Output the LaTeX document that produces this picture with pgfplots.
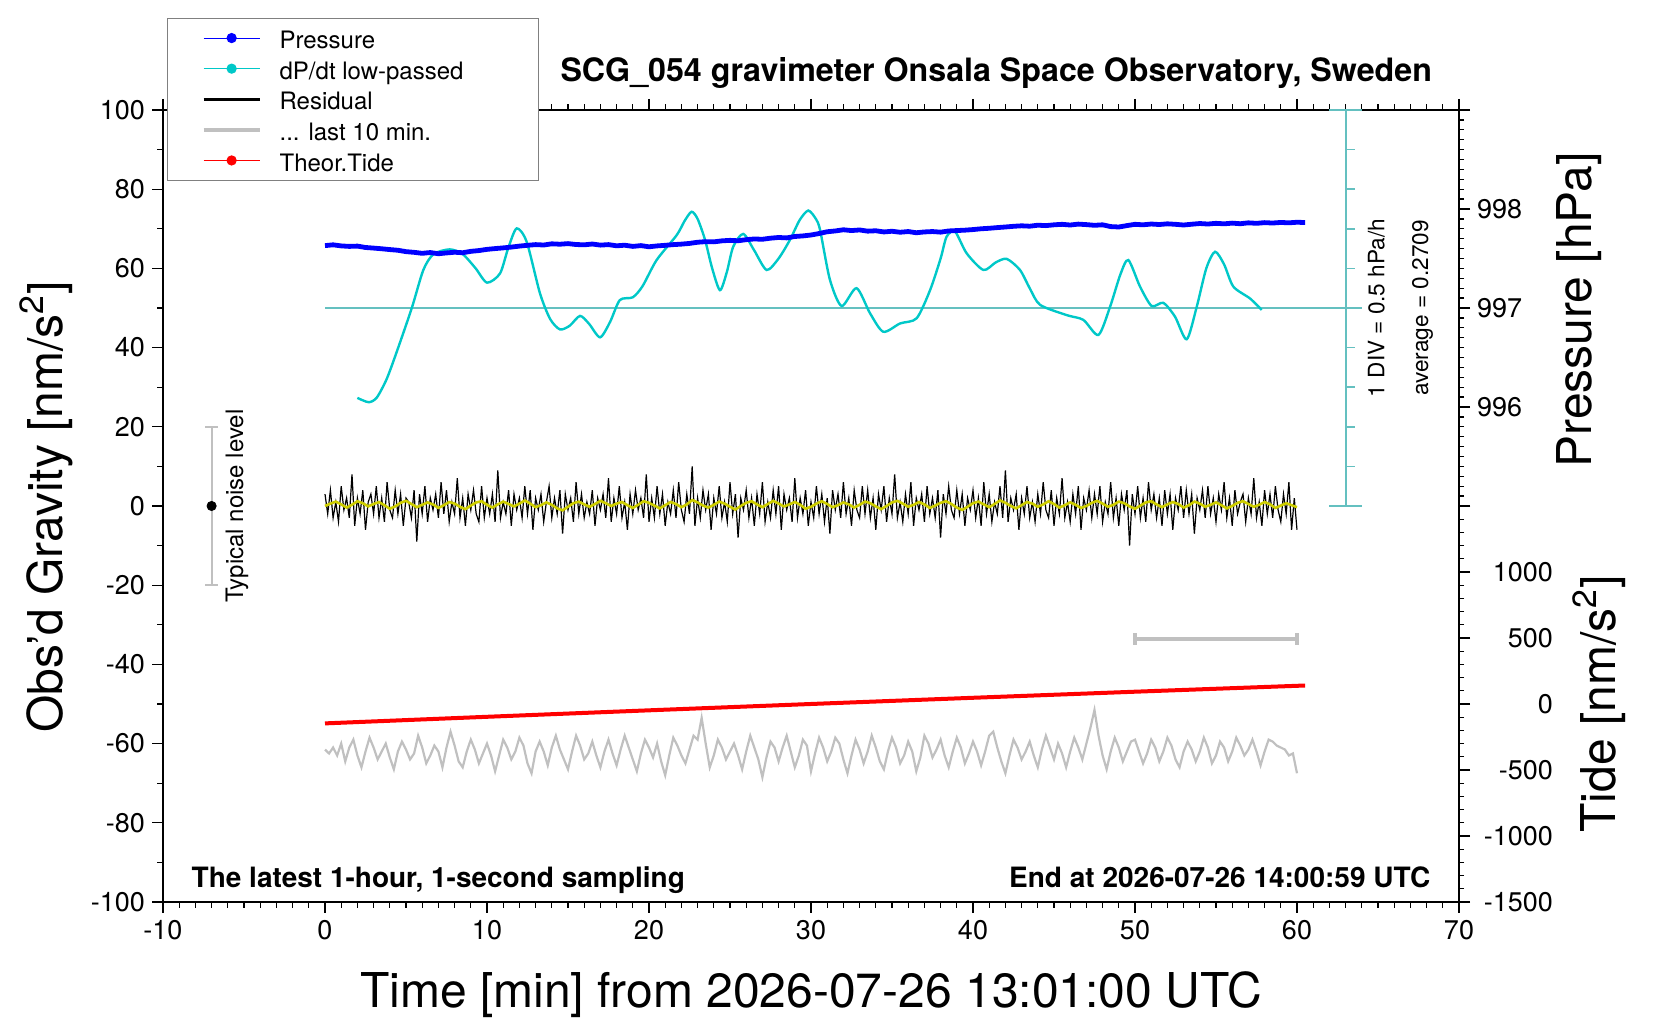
\documentclass[border=0pt]{standalone}
\usepackage{fontspec}
\setmainfont{TeX Gyre Heros}
\usepackage{pgfplots}
\pgfplotsset{compat=1.18}
\usepackage{pgfplotstable}

\definecolor{cyanc}{RGB}{0,200,200}
\definecolor{tealc}{RGB}{100,192,192}
\definecolor{yel}{RGB}{205,205,0}
\definecolor{grayc}{RGB}{192,192,192}

% residual, one value every 10 s
\pgfplotstableread[row sep=\\]{y\\
3\\ -2\\ 4\\ -3\\ 1\\ -4\\ 5\\ -1\\ 2\\ -3\\ 8\\ -5\\ 2\\ -2\\ 4\\ -6\\ 1\\ 3\\ -2\\ 5\\
-3\\ 2\\ -4\\ 6\\ -1\\ -3\\ 4\\ -2\\ 3\\ -5\\ 2\\ 1\\ -3\\ 4\\ -9\\ 3\\ -2\\ 5\\ -4\\ 2\\
-1\\ 3\\ -3\\ 6\\ -2\\ 4\\ -4\\ 1\\ -2\\ 7\\ -3\\ 2\\ -5\\ 3\\ -1\\ 4\\ -2\\ -4\\ 5\\ -3\\
2\\ -2\\ 3\\ -4\\ 9\\ -3\\ 1\\ -2\\ 4\\ -5\\ 3\\ -1\\ 2\\ -3\\ 5\\ -2\\ 4\\ -6\\ 2\\ -1\\
3\\ -4\\ 1\\ 5\\ -3\\ 2\\ -2\\ 4\\ -7\\ 3\\ -1\\ 2\\ -4\\ 6\\ -2\\ 3\\ -3\\ 1\\ -2\\ 4\\
-5\\ 2\\ -1\\ 3\\ -3\\ 7\\ -4\\ 2\\ -2\\ 5\\ -3\\ 1\\ -6\\ 3\\ -2\\ 4\\ -1\\ 2\\ -3\\ 8\\
-4\\ 2\\ -3\\ 5\\ -2\\ 3\\ -5\\ 1\\ -2\\ 4\\ -3\\ 6\\ -1\\ -4\\ 3\\ -2\\ 10\\ -5\\ 2\\ -3\\
4\\ -1\\ 3\\ -6\\ 2\\ -2\\ 5\\ -3\\ 1\\ -4\\ 6\\ -2\\ 3\\ -8\\ 2\\ -1\\ 4\\ -3\\ 2\\ -5\\
3\\ -2\\ 6\\ -4\\ 1\\ -3\\ 4\\ -2\\ 5\\ -6\\ 3\\ -1\\ 2\\ -4\\ 7\\ -3\\ 2\\ -2\\ 4\\ -5\\
1\\ -3\\ 5\\ -2\\ 3\\ -4\\ 2\\ -7\\ 4\\ -1\\ 3\\ -3\\ 6\\ -2\\ 2\\ -5\\ 4\\ -1\\ -3\\ 5\\
-2\\ 4\\ -3\\ 2\\ -6\\ 3\\ -1\\ 5\\ -4\\ 2\\ -2\\ 8\\ -3\\ 1\\ -4\\ 3\\ -2\\ 6\\ -5\\ 2\\
-1\\ 3\\ -4\\ 5\\ -2\\ 2\\ -3\\ 4\\ -8\\ 3\\ -2\\ 5\\ -1\\ -3\\ 4\\ -2\\ 3\\ -5\\ 2\\ -1\\
4\\ -3\\ 2\\ -5\\ 6\\ -2\\ 3\\ -4\\ 1\\ -2\\ 5\\ -3\\ 9\\ -4\\ 2\\ -1\\ 3\\ -6\\ 2\\ -2\\
5\\ -3\\ 1\\ -4\\ 3\\ -2\\ 6\\ -1\\ -3\\ 4\\ -5\\ 2\\ -2\\ 7\\ -3\\ 1\\ -4\\ 3\\ -2\\ 5\\
-6\\ 2\\ -1\\ 4\\ -3\\ 3\\ -2\\ 5\\ -4\\ 1\\ -2\\ 6\\ -3\\ 2\\ -5\\ 3\\ -1\\ 4\\ -10\\ 3\\
-2\\ 5\\ -3\\ 2\\ -4\\ 6\\ -1\\ 3\\ -3\\ 2\\ -5\\ 4\\ -2\\ 3\\ -6\\ 2\\ -1\\ 5\\ -3\\ 4\\
-2\\ 3\\ -7\\ 2\\ -1\\ 4\\ -3\\ 5\\ -2\\ 2\\ -4\\ 3\\ -1\\ 6\\ -3\\ 2\\ -5\\ 4\\ -2\\ 1\\
3\\ -4\\ 2\\ -2\\ 7\\ -3\\ 1\\ -5\\ 4\\ -2\\ 3\\ -3\\ 5\\ -1\\ -4\\ 3\\ -2\\ 6\\ -6\\ 2\\
-6\\
}\residual

% smoothed residual, one value every 20 s
\pgfplotstableread[row sep=\\]{y\\
0\\ 0.6\\ 1.1\\ 0.4\\ -0.4\\ 0.3\\ 1.2\\ 0.7\\ -0.1\\ 0.5\\ 1.0\\ 0.2\\ -0.7\\ -0.1\\ 0.8\\ 1.3\\ 0.5\\ -0.3\\ 0.3\\ 0.9\\
0.4\\ -0.5\\ 0.2\\ 1.0\\ 0.6\\ -0.2\\ -0.8\\ 0.1\\ 0.9\\ 1.2\\ 0.3\\ -0.4\\ 0.4\\ 1.1\\ 0.5\\ -0.1\\ 0.6\\ 1.4\\ 0.6\\ -0.3\\
0.2\\ 0.9\\ 0.3\\ -0.6\\ -1.1\\ -0.2\\ 0.7\\ 1.1\\ 0.4\\ -0.2\\ 0.5\\ 1.3\\ 0.7\\ 0\\ 0.6\\ 1.0\\ 0.2\\ -0.5\\ 0.3\\ 1.2\\
0.8\\ 0.1\\ -0.6\\ 0.2\\ 1.0\\ 0.5\\ -0.3\\ 0.4\\ 1.5\\ 0.9\\ 0.1\\ -0.4\\ 0.3\\ 1.1\\ 0.6\\ -0.2\\ -0.9\\ 0\\ 0.8\\ 1.2\\
0.4\\ -0.3\\ 0.5\\ 1.3\\ 0.6\\ -0.1\\ 0.4\\ 1.0\\ 0.3\\ -0.7\\ -0.2\\ 0.6\\ 1.2\\ 0.5\\ -0.3\\ 0.2\\ 0.9\\ 0.4\\ -0.4\\ 0.3\\
1.1\\ 0.7\\ -0.1\\ -0.8\\ 0\\ 0.9\\ 1.3\\ 0.6\\ -0.2\\ 0.3\\ 1.0\\ 0.4\\ -0.5\\ 0.1\\ 0.8\\ 1.2\\ 0.5\\ -0.4\\ -1.0\\ -0.2\\
0.7\\ 1.1\\ 0.4\\ -0.3\\ 0.5\\ 1.4\\ 0.8\\ 0\\ -0.6\\ 0.2\\ 1.0\\ 0.6\\ -0.2\\ 0.4\\ 1.2\\ 0.5\\ -0.4\\ 0.2\\ 0.9\\ 0.3\\
-0.5\\ 0\\ 0.8\\ 1.3\\ 0.6\\ -0.2\\ 0.3\\ 1.1\\ 0.7\\ -0.1\\ -0.7\\ 0.1\\ 0.9\\ 1.2\\ 0.4\\ -0.3\\ 0.4\\ 1.0\\ 0.5\\ -0.4\\
0.2\\ 1.1\\ 0.6\\ -0.2\\ 0.3\\ 0.9\\ 0.2\\ -0.6\\ 0\\ 0.8\\ 1.2\\ 0.5\\ -0.2\\ 0.3\\ 1.0\\ 0.4\\ -0.5\\ 0.1\\ 0.7\\ 0.2\\
-0.3\\
}\smoothres

% last 10 minutes, stretched over the hour (offset -62)
\pgfplotstableread[row sep=\\]{y\\
-61.5\\ -62.5\\ -61\\ -63\\ -60\\ -64.5\\ -61\\ -59\\ -63\\ -66\\ -62\\ -58.5\\ -61\\ -64\\ -62\\ -60\\ -63.5\\ -66.5\\ -62\\ -59.5\\
-61.5\\ -64\\ -62.5\\ -58\\ -61\\ -65\\ -63\\ -60.5\\ -62\\ -66\\ -61\\ -57\\ -60.5\\ -64.5\\ -66\\ -62\\ -59\\ -61.5\\ -65\\ -62.5\\
-60\\ -63\\ -67\\ -63\\ -59\\ -61\\ -64\\ -62\\ -58.5\\ -60.5\\ -65\\ -67.5\\ -62\\ -59.5\\ -62\\ -65.5\\ -61\\ -58\\ -61.5\\ -64\\
-66.5\\ -62\\ -58\\ -60.5\\ -64\\ -62.5\\ -59.5\\ -63\\ -66\\ -62\\ -59\\ -62.5\\ -65.5\\ -61.5\\ -58\\ -61\\ -64\\ -67\\ -62.5\\ -59\\
-61\\ -63.5\\ -60\\ -64.5\\ -68\\ -63\\ -58.5\\ -60.5\\ -63\\ -65\\ -61.5\\ -58\\ -59\\ -53.5\\ -60\\ -66\\ -63\\ -59\\ -61\\ -64\\
-62\\ -60\\ -63\\ -66.5\\ -62\\ -58\\ -61\\ -64\\ -68.5\\ -63.5\\ -59.5\\ -61\\ -64.5\\ -61\\ -58\\ -62\\ -66\\ -63\\ -59\\ -60.5\\
-67\\ -62.5\\ -58.5\\ -61\\ -64.5\\ -62\\ -58.5\\ -60\\ -64\\ -67.5\\ -63\\ -59\\ -61.5\\ -65\\ -62\\ -58\\ -61\\ -64.5\\ -66.5\\ -62\\
-58.5\\ -61\\ -65\\ -63\\ -59.5\\ -62\\ -67\\ -63.5\\ -58\\ -60\\ -63.5\\ -61.5\\ -59\\ -63\\ -66\\ -62\\ -58.5\\ -61\\ -65\\ -62.5\\
-59.5\\ -62\\ -65.5\\ -62\\ -58\\ -57\\ -61\\ -64.5\\ -67.5\\ -63\\ -59\\ -61\\ -64\\ -62\\ -59.5\\ -63\\ -66\\ -61.5\\ -58\\ -61\\
-64\\ -60\\ -62.5\\ -66\\ -62\\ -58.5\\ -61\\ -64\\ -60\\ -56\\ -51.5\\ -58\\ -63\\ -66.5\\ -62\\ -58.5\\ -61\\ -64.5\\ -62\\ -59.5\\
-59\\ -62\\ -65\\ -62.5\\ -59\\ -61\\ -64.5\\ -62\\ -58.5\\ -60.5\\ -64\\ -66\\ -62\\ -59.5\\ -61.5\\ -64.5\\ -62\\ -58.5\\ -61\\ -65\\
-63\\ -59.5\\ -61\\ -64.5\\ -62\\ -58.5\\ -60.5\\ -63\\ -61.5\\ -59\\ -62\\ -65.5\\ -62\\ -59\\ -59.5\\ -60.5\\ -61\\ -61.5\\ -63\\ -62.5\\
-67.5\\
}\lastten

% pressure [hPa], one value every 30 s
\pgfplotstableread[row sep=\\]{y\\
997.630\\ 997.638\\ 997.627\\ 997.622\\ 997.625\\ 997.611\\ 997.605\\ 997.598\\ 997.590\\ 997.583\\
997.569\\ 997.562\\ 997.552\\ 997.560\\ 997.548\\ 997.556\\ 997.563\\ 997.558\\ 997.572\\ 997.580\\
997.592\\ 997.600\\ 997.607\\ 997.615\\ 997.625\\ 997.633\\ 997.640\\ 997.636\\ 997.648\\ 997.644\\
997.650\\ 997.641\\ 997.638\\ 997.646\\ 997.635\\ 997.640\\ 997.628\\ 997.634\\ 997.622\\ 997.630\\
997.618\\ 997.627\\ 997.633\\ 997.640\\ 997.645\\ 997.652\\ 997.664\\ 997.670\\ 997.668\\ 997.678\\
997.683\\ 997.679\\ 997.690\\ 997.697\\ 997.694\\ 997.705\\ 997.712\\ 997.708\\ 997.722\\ 997.728\\
997.737\\ 997.752\\ 997.770\\ 997.778\\ 997.790\\ 997.782\\ 997.788\\ 997.776\\ 997.780\\ 997.768\\
997.775\\ 997.765\\ 997.772\\ 997.760\\ 997.768\\ 997.772\\ 997.766\\ 997.778\\ 997.782\\ 997.786\\
997.792\\ 997.800\\ 997.805\\ 997.812\\ 997.818\\ 997.825\\ 997.830\\ 997.826\\ 997.836\\ 997.832\\
997.840\\ 997.845\\ 997.838\\ 997.847\\ 997.842\\ 997.835\\ 997.840\\ 997.822\\ 997.818\\ 997.832\\
997.845\\ 997.840\\ 997.848\\ 997.843\\ 997.850\\ 997.845\\ 997.838\\ 997.846\\ 997.853\\ 997.848\\
997.855\\ 997.850\\ 997.857\\ 997.851\\ 997.860\\ 997.855\\ 997.862\\ 997.858\\ 997.864\\ 997.860\\
997.866\\ 997.863\\
}\pressure

\begin{document}
\begin{tikzpicture}
\useasboundingbox (0pt,0pt) rectangle (830pt,510pt);

% ---------------- main axis (gravity) ----------------
\begin{axis}[
  at={(81.5pt,59pt)}, anchor=south west,
  scale only axis, width=648pt, height=396pt,
  xmin=-10, xmax=70, ymin=-100, ymax=100,
  xtick={-10,0,...,70}, minor x tick num=9,
  ytick={-100,-80,...,100}, minor y tick num=1,
  ytick pos=left, xtick pos=both, xticklabel pos=lower,
  tick align=outside, major tick length=5.5pt, minor tick length=2.8pt,
  tick style={black, line width=0.65pt},
  axis line style={line width=1pt},
  tick label style={font=\fontsize{13.5}{16}\selectfont},
  /pgf/number format/assume math mode=true,
  legend style={at={(axis description cs:0.0028,1.1162)}, anchor=north west,
    draw=gray, fill=white, font=\fontsize{12}{14}\selectfont,
    inner xsep=17.3pt, inner ysep=2.2pt, row sep=0pt,
    nodes={text height=11pt, text depth=0.3pt, inner ysep=2pt},
    /tikz/every odd column/.append style={column sep=7pt}},
  legend cell align=left,
  legend image code/.code={\draw[mark repeat=2,mark phase=2,#1] plot coordinates {(0pt,0pt) (14pt,0pt) (28pt,0pt)};},
]
\addlegendimage{blue, line width=0.5pt, mark=*, mark size=2.3pt}
\addlegendentry{Pressure}
\addlegendimage{cyanc, line width=0.5pt, mark=*, mark size=2.3pt}
\addlegendentry{dP/dt low-passed\rule{18.4pt}{0pt}}
\addlegendimage{black, line width=1.3pt}
\addlegendentry{Residual}
\addlegendimage{grayc, line width=2pt}
\addlegendentry{... last 10 min.}
\addlegendimage{red, line width=0.5pt, mark=*, mark size=2.3pt}
\addlegendentry{Theor.Tide}

% dP/dt scale
\draw[tealc, line width=1pt] (axis cs:0,50) -- (axis cs:64,50);
\draw[tealc, line width=1pt] (axis cs:63,0) -- (axis cs:63,100);
\draw[tealc, line width=1pt] (axis cs:62,0) -- (axis cs:64,0);
\draw[tealc, line width=1pt] (axis cs:62,100) -- (axis cs:64,100);
\draw[tealc, line width=0.8pt] (axis cs:63,10) -- (axis cs:63.55,10);
\draw[tealc, line width=0.8pt] (axis cs:63,20) -- (axis cs:63.55,20);
\draw[tealc, line width=0.8pt] (axis cs:63,30) -- (axis cs:63.55,30);
\draw[tealc, line width=0.8pt] (axis cs:63,40) -- (axis cs:63.55,40);
\draw[tealc, line width=0.8pt] (axis cs:63,60) -- (axis cs:63.55,60);
\draw[tealc, line width=0.8pt] (axis cs:63,70) -- (axis cs:63.55,70);
\draw[tealc, line width=0.8pt] (axis cs:63,80) -- (axis cs:63.55,80);
\draw[tealc, line width=0.8pt] (axis cs:63,90) -- (axis cs:63.55,90);

% dP/dt low-passed
\addplot[forget plot, cyanc, line width=1.2pt, smooth, tension=0.45] coordinates {
(2.0,27.3) (2.7,26.2) (3.2,27.4) (3.8,32) (4.4,38.6) (5.35,49.9) (6.07,59.6) (6.7,63.6)
(7.7,64.8) (8.5,63.6) (9.3,60) (10.0,56.4) (10.8,58.7) (11.3,65) (11.83,70.1) (12.45,66.7)
(13.27,53.7) (13.9,47.2) (14.5,44.6) (15.1,45.5) (15.74,48.0) (16.3,46) (16.98,42.6)
(17.6,46.5) (18.2,52.0) (19.0,52.7) (19.6,55.5) (20.47,62.1) (21.71,68.4) (22.2,72)
(22.63,74.3) (23.0,72.5) (23.46,67.2) (23.9,60) (24.38,54.5) (24.8,59) (25.2,65.5)
(25.82,68.7) (26.5,64.5) (27.26,59.6) (28.0,62.5) (28.7,67.2) (29.3,72.2) (29.83,74.6)
(30.3,72.5) (30.56,69.7) (31.17,57.1) (31.89,50.5) (32.81,55.0) (33.64,48.7) (34.46,44.0)
(35.5,46.1) (36.52,47.4) (37.35,54.5) (38.0,62.5) (38.37,68.0) (38.89,69.3) (39.61,63.8)
(40.64,59.6) (41.4,61.5) (42.08,62.4) (42.9,59.6) (43.5,55) (44.14,50.8) (45.78,48.2)
(46.81,47.0) (47.74,43.2) (48.46,50.3) (49.1,58.5) (49.59,62.1) (50.31,55.4) (51.03,50.5)
(51.75,51.3) (52.47,47.8) (53.19,42.1) (53.81,50.3) (54.4,60) (54.94,64.2) (55.5,61)
(56.07,55.4) (57.1,52.4) (57.82,49.5)};

% residual and its smoothed version
\addplot[forget plot, black, line width=0.6pt] table[x expr=\coordindex/6, y=y] {\residual};
\addplot[forget plot, yel, line width=1.3pt] table[x expr=\coordindex/3, y=y] {\smoothres};

% last 10 min
\addplot[forget plot, grayc, line width=1.1pt] table[x expr=\coordindex/4, y=y] {\lastten};

% 10-minute scale bar
\addplot[forget plot, grayc, line width=2pt] coordinates {(50,-33.5) (60,-33.5)};
\addplot[forget plot, grayc, line width=2pt] coordinates {(50,-35) (50,-32)};
\addplot[forget plot, grayc, line width=2pt] coordinates {(60,-35) (60,-32)};

% typical noise level
\addplot[forget plot, grayc, line width=1pt] coordinates {(-7,-20) (-7,20)};
\addplot[forget plot, grayc, line width=1pt] coordinates {(-7.4,-20) (-6.6,-20)};
\addplot[forget plot, grayc, line width=1pt] coordinates {(-7.4,20) (-6.6,20)};
\addplot[forget plot, only marks, black, mark=*, mark size=2.3pt] coordinates {(-7,0)};

\node[rotate=90, anchor=base, font=\fontsize{12}{14}\selectfont] at (axis cs:-5.06,0) {Typical noise level};
\node[rotate=90, anchor=base, font=\fontsize{11.3}{13}\selectfont] at (axis cs:65.4,50) {1 DIV = 0.5 hPa/h};
\node[rotate=90, anchor=base, font=\fontsize{11.3}{13}\selectfont] at (axis cs:68.1,50) {average = 0.2709};
\end{axis}

% ---------------- pressure axis (upper right) ----------------
\begin{axis}[
  at={(81.5pt,257pt)}, anchor=south west,
  scale only axis, width=648pt, height=198pt,
  xmin=-10, xmax=70, ymin=995, ymax=999,
  axis x line=none, axis y line*=right,
  y axis line style={-, line width=1pt},
  ytick={995,996,997,998,999}, minor y tick num=9,
  yticklabels={{},996,997,998,{}},
  tick align=outside, major tick length=5.5pt, minor tick length=2.6pt,
  tick style={black, line width=0.65pt},
  tick label style={font=\fontsize{13.5}{16}\selectfont},
]
\addplot[blue, line width=2.4pt] table[x expr=\coordindex/2, y=y] {\pressure};
\end{axis}

% ---------------- tide axis (lower right) ----------------
\begin{axis}[
  at={(81.5pt,59pt)}, anchor=south west,
  scale only axis, width=648pt, height=198pt,
  xmin=-10, xmax=70, ymin=-1500, ymax=1500,
  axis x line=none, axis y line*=right,
  y axis line style={-, line width=1pt},
  ytick={-1500,-1000,-500,0,500,1000,1500}, minor y tick num=4,
  yticklabels={-1500,-1000,-500,0,500,1000,{}},
  tick align=outside, major tick length=5.5pt, minor tick length=2.6pt,
  tick style={black, line width=0.65pt},
  tick label style={font=\fontsize{13.5}{16}\selectfont},
  yticklabel style={anchor=east, xshift=45pt},
]
\addplot[red, line width=2pt] coordinates {(0,-147) (10,-97) (20,-48) (30,0) (40,47) (50,93) (60.5,140)};
\end{axis}

% ---------------- texts ----------------
\node[anchor=base east, font=\bfseries\fontsize{16.1}{19}\selectfont] at (719.5pt,469pt) {SCG\_054 gravimeter Onsala Space Observatory, Sweden};
\node[anchor=base west, font=\bfseries\fontsize{14}{16}\selectfont] at (92.3pt,66pt) {The latest 1-hour, 1-second sampling};
\node[anchor=base east, font=\bfseries\fontsize{14}{16}\selectfont] at (718.7pt,66pt) {End at 2026-07-26 14:00:59 UTC};
\node[anchor=base, font=\fontsize{24}{28}\selectfont] at (405.5pt,6pt) {Time [min] from 2026-07-26 13:01:00 UTC};
\node[rotate=90, anchor=base, font=\fontsize{24}{28}\selectfont] at (31pt,256.5pt) {Obs'd Gravity [nm/s\textsuperscript{2}]};
\node[rotate=90, anchor=base, font=\fontsize{24}{28}\selectfont] at (795.5pt,355pt) {Pressure [hPa]};
\node[rotate=90, anchor=base, font=\fontsize{24}{28}\selectfont] at (807.5pt,158pt) {Tide [nm/s\textsuperscript{2}]};
\end{tikzpicture}
\end{document}
